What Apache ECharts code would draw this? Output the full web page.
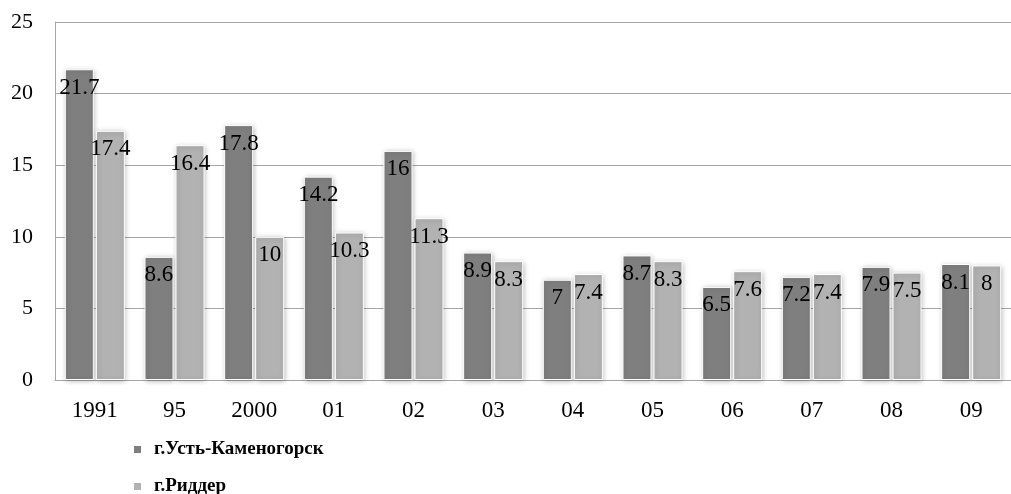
<!DOCTYPE html>
<html>
<head>
<meta charset="utf-8">
<script src="https://cdn.jsdelivr.net/npm/echarts@6/dist/echarts.min.js"></script>
<style>html,body{margin:0;padding:0;background:#fff;}#c{width:1011px;height:494px;}</style>
</head>
<body>
<div id="c"></div>
<script>
const categories = ['1991', '95', '2000', '01', '02', '03', '04', '05', '06', '07', '08', '09'];
const ustKamenogorsk = [21.7, 8.6, 17.8, 14.2, 16, 8.9, 7, 8.7, 6.5, 7.2, 7.9, 8.1];
const ridder = [17.4, 16.4, 10, 10.3, 11.3, 8.3, 7.4, 8.3, 7.6, 7.4, 7.5, 8];
const seriesNames = ['г.Усть-Каменогорск', 'г.Риддер'];
const yTicks = [0, 5, 10, 15, 20, 25];

const chart = echarts.init(document.getElementById('c'), null, {renderer: 'canvas'});
const serif = '"Liberation Serif", "DejaVu Serif", serif';
const labelStyle = {
  show: true, position: 'insideTop', distance: 7,
  color: '#000', fontFamily: serif, fontSize: 23
};
const barStyle = (c) => ({
  color: c, borderColor: '#fff', borderWidth: 1,
  shadowColor: 'rgba(0,0,0,0.25)', shadowBlur: 5, shadowOffsetX: 1, shadowOffsetY: 1
});
const legendBase = (name, top) => ({
  orient: 'vertical', left: 132, top: top, padding: 0,
  itemWidth: 9, itemHeight: 9, icon: 'rect',
  textStyle: {fontFamily: serif, fontSize: 19, fontWeight: 'bold', color: '#000',
              lineHeight: 18, padding: [0, 0, 0, 7]},
  data: [name]
});
chart.setOption({
  animation: false,
  backgroundColor: '#fff',
  grid: {left: 55, top: 22, width: 972, height: 358, containLabel: false},
  legend: [legendBase(seriesNames[0], 440), legendBase(seriesNames[1], 477)],
  xAxis: {
    type: 'category', data: categories,
    axisLine: {show: true, lineStyle: {color: '#a6a6a6'}},
    axisTick: {show: false},
    axisLabel: {margin: 19, color: '#000', fontFamily: serif, fontSize: 23}
  },
  yAxis: {
    type: 'value', min: yTicks[0], max: yTicks[yTicks.length - 1], interval: 5,
    axisLine: {show: true, lineStyle: {color: '#a6a6a6'}},
    axisTick: {show: false},
    splitLine: {lineStyle: {color: '#a6a6a6'}},
    axisLabel: {margin: 22, color: '#000', fontFamily: serif, fontSize: 22}
  },
  series: [
    {name: seriesNames[0], type: 'bar', data: ustKamenogorsk, barWidth: 29, barGap: '7%',
     itemStyle: barStyle('#7f7f7f'), label: labelStyle},
    {name: seriesNames[1], type: 'bar', data: ridder, barWidth: 29,
     itemStyle: barStyle('#b2b2b2'), label: labelStyle}
  ]
});
</script>
</body>
</html>
